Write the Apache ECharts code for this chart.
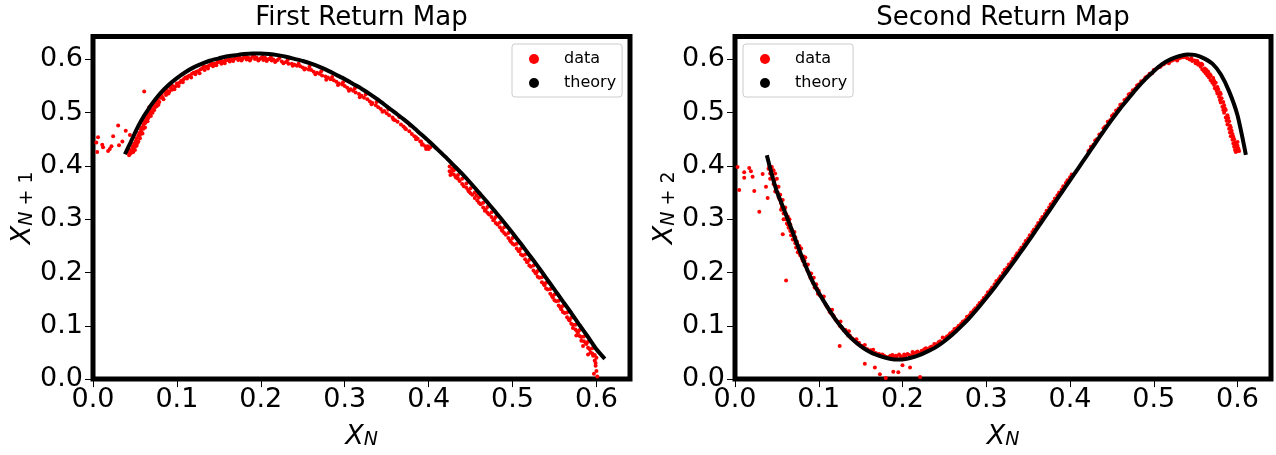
<!DOCTYPE html>
<html><head><meta charset="utf-8">
<script src="https://cdn.jsdelivr.net/npm/echarts@6/dist/echarts.min.js"></script>
<style>html,body{margin:0;padding:0;background:#fff}#c{width:1276px;height:455px}</style>
</head><body><div id="c"></div>
<script>
const xTicks = [0, 0.1, 0.2, 0.3, 0.4, 0.5, 0.6];
const yTicks = [0, 0.1, 0.2, 0.3, 0.4, 0.5, 0.6];
const titles = ['First Return Map', 'Second Return Map'];
const seriesNames = ['data', 'theory'];

const firstTheory = [[0.038,0.422],[0.045,0.445],[0.05,0.462],[0.055,0.478],[0.06,0.492],[0.065,0.504],[0.07,0.516],[0.08,0.536],[0.09,0.552],[0.1,0.565],[0.11,0.576],[0.12,0.585],[0.13,0.592],[0.14,0.598],[0.15,0.602],[0.16,0.606],[0.17,0.608],[0.18,0.610],[0.19,0.611],[0.2,0.611],[0.21,0.610],[0.22,0.608],[0.23,0.605],[0.24,0.601],[0.25,0.597],[0.26,0.592],[0.27,0.586],[0.28,0.579],[0.29,0.571],[0.3,0.563],[0.31,0.554],[0.32,0.545],[0.33,0.535],[0.34,0.524],[0.35,0.512],[0.36,0.500],[0.37,0.488],[0.38,0.475],[0.39,0.461],[0.4,0.447],[0.41,0.432],[0.42,0.417],[0.43,0.401],[0.44,0.385],[0.45,0.368],[0.46,0.350],[0.47,0.332],[0.48,0.313],[0.49,0.294],[0.5,0.274],[0.51,0.254],[0.52,0.233],[0.53,0.212],[0.54,0.190],[0.55,0.168],[0.56,0.146],[0.57,0.124],[0.58,0.101],[0.59,0.079],[0.6,0.056],[0.61,0.038]];

const firstData = [[0.004,0.444],[0.006,0.454],[0.005,0.426],[0.011,0.440],[0.012,0.435],[0.018,0.428],[0.020,0.432],[0.022,0.437],[0.024,0.456],[0.030,0.476],[0.031,0.439],[0.035,0.446],[0.039,0.466],[0.044,0.458],[0.061,0.540],
[0.042,0.425],[0.044,0.431],[0.046,0.428],[0.047,0.437],[0.048,0.432],[0.049,0.442],[0.050,0.436],[0.051,0.447],[0.052,0.452],[0.053,0.443],[0.054,0.457],[0.055,0.462],[0.056,0.452],[0.057,0.468],[0.058,0.472],[0.059,0.461],[0.060,0.478],[0.061,0.483],[0.062,0.472],[0.063,0.489],[0.064,0.493],[0.065,0.484],[0.066,0.498],[0.067,0.510],[0.068,0.502],[0.069,0.494],[0.070,0.507],[0.072,0.513],[0.073,0.505],[0.075,0.518],[0.077,0.523],[0.078,0.515],[0.080,0.528],[0.082,0.533],[0.084,0.525],[0.086,0.538],[0.088,0.542],[0.090,0.536],[0.092,0.547],[0.095,0.550],[0.097,0.544],[0.100,0.555],
[0.043,0.420],[0.045,0.424],[0.048,0.426],[0.050,0.430],[0.052,0.438],[0.054,0.446],[0.056,0.458],[0.058,0.463],[0.060,0.470],[0.062,0.480],[0.064,0.486],[0.066,0.490],[0.068,0.496],[0.071,0.500],[0.074,0.510],[0.076,0.512],[0.079,0.520],[0.083,0.528],[0.087,0.533],[0.091,0.540],[0.094,0.543],[0.098,0.549],
[0.103,0.556],[0.105,0.560],[0.108,0.563],[0.110,0.566],[0.112,0.564],[0.115,0.570],[0.118,0.573],[0.120,0.575],[0.122,0.572],[0.125,0.578],[0.128,0.581],[0.130,0.583],[0.133,0.580],[0.135,0.586],[0.138,0.588],[0.140,0.590],[0.143,0.587],[0.145,0.592],[0.148,0.594],[0.150,0.595],[0.153,0.592],[0.155,0.596],[0.158,0.598],[0.160,0.599],[0.163,0.596],[0.165,0.600],[0.168,0.601],[0.170,0.602],[0.173,0.599],[0.175,0.603],[0.178,0.601],[0.180,0.604],[0.183,0.600],[0.185,0.603],[0.188,0.601],[0.190,0.605],[0.193,0.601],[0.195,0.603],[0.198,0.600],[0.200,0.602],[0.203,0.599],[0.205,0.603],[0.208,0.600],[0.210,0.601],[0.213,0.598],[0.215,0.600],[0.218,0.597],[0.220,0.599],[0.225,0.596],[0.230,0.595],[0.233,0.592],[0.237,0.592],[0.240,0.590],[0.243,0.588],[0.247,0.587],[0.250,0.585],[0.253,0.583],[0.257,0.581],[0.260,0.580],[0.263,0.577],[0.267,0.575],[0.270,0.573],[0.273,0.570],[0.277,0.568],[0.280,0.566],[0.283,0.563],[0.287,0.561],[0.290,0.558],[0.293,0.555],[0.297,0.553],[0.300,0.550],[0.303,0.547],[0.307,0.544],[0.310,0.541],[0.313,0.538],[0.317,0.535],[0.320,0.532],[0.323,0.528],[0.327,0.525],[0.330,0.521],[0.333,0.518],[0.337,0.514],[0.340,0.510],[0.343,0.507],[0.347,0.503],[0.350,0.499],[0.353,0.495],[0.357,0.491],[0.360,0.486],[0.363,0.483],[0.367,0.478],[0.370,0.474],[0.373,0.469],[0.377,0.465],[0.380,0.460],[0.383,0.456],[0.387,0.451],[0.390,0.446],[0.393,0.441],[0.396,0.437],[0.398,0.434],[0.400,0.432],[0.385,0.450],[0.392,0.440],[0.397,0.432],[0.402,0.435],
[0.102,0.550],[0.107,0.557],[0.113,0.568],[0.117,0.566],[0.123,0.577],[0.127,0.574],[0.132,0.586],[0.137,0.583],[0.142,0.592],[0.147,0.589],[0.152,0.598],[0.157,0.593],[0.162,0.601],[0.167,0.597],[0.172,0.604],[0.177,0.598],[0.182,0.606],[0.187,0.598],[0.192,0.606],[0.197,0.598],[0.202,0.605],[0.207,0.597],[0.212,0.604],[0.217,0.595],[0.222,0.602],[0.227,0.593],[0.232,0.599],[0.238,0.588],[0.245,0.592],[0.252,0.581],[0.258,0.586],[0.265,0.572],[0.272,0.578],[0.278,0.562],[0.285,0.567],[0.292,0.552],[0.298,0.557],[0.305,0.541],[0.312,0.546],[0.318,0.529],[0.325,0.534],[0.332,0.516],[0.338,0.520],[0.345,0.502],[0.352,0.506],[0.358,0.487],[0.365,0.492],[0.372,0.471],[0.378,0.476],[0.385,0.454],[0.391,0.446],[0.399,0.437],
[0.425,0.399],[0.425,0.390],[0.426,0.383],[0.430,0.392],[0.430,0.384],[0.435,0.383],[0.435,0.376],[0.440,0.376],[0.440,0.366],[0.445,0.367],[0.445,0.359],[0.450,0.358],[0.450,0.349],[0.455,0.350],[0.455,0.340],[0.460,0.341],[0.460,0.331],[0.465,0.331],[0.465,0.322],[0.470,0.323],[0.470,0.312],[0.475,0.313],[0.475,0.304],[0.480,0.304],[0.480,0.293],[0.485,0.294],[0.485,0.285],[0.490,0.285],[0.490,0.274],[0.495,0.274],[0.495,0.265],[0.500,0.265],[0.500,0.254],[0.505,0.254],[0.505,0.245],[0.510,0.245],[0.510,0.234],[0.515,0.234],[0.515,0.225],[0.520,0.224],[0.520,0.213],[0.525,0.213],[0.525,0.204],[0.530,0.203],[0.530,0.192],[0.535,0.191],[0.535,0.182],[0.540,0.181],[0.540,0.170],[0.545,0.169],[0.545,0.160],[0.550,0.159],[0.550,0.148],[0.555,0.147],[0.555,0.138],[0.560,0.137],[0.560,0.126],[0.565,0.125],[0.565,0.116],[0.570,0.115],[0.570,0.104],[0.575,0.102],[0.575,0.093],[0.580,0.092],[0.580,0.081],[0.585,0.080],[0.585,0.071],[0.590,0.070],[0.590,0.059],[0.595,0.058],[0.595,0.048],[0.598,0.045],[0.598,0.035],[0.599,0.025],[0.600,0.040],[0.600,0.015],[0.601,0.005],[0.597,0.010],[0.576,0.082],[0.584,0.062],[0.590,0.046],[0.428,0.395],[0.432,0.380],[0.447,0.355],[0.457,0.345],[0.468,0.318],[0.478,0.300],[0.488,0.278],[0.498,0.258],[0.508,0.240],[0.518,0.220],[0.528,0.198],[0.538,0.176],[0.548,0.153],[0.558,0.131],[0.568,0.110],[0.578,0.087],[0.588,0.066],
[0.427,0.388],[0.433,0.378],[0.437,0.372],[0.442,0.362],[0.448,0.352],[0.452,0.346],[0.458,0.335],[0.462,0.328],[0.467,0.316],[0.472,0.309],[0.477,0.298],[0.482,0.290],[0.487,0.280],[0.492,0.271],[0.497,0.260],[0.502,0.252],[0.507,0.241],[0.512,0.232],[0.517,0.220],[0.522,0.211],[0.527,0.200],[0.532,0.190],[0.537,0.179],[0.542,0.168],[0.547,0.156],[0.552,0.146],[0.557,0.135],[0.562,0.124],[0.567,0.112],[0.572,0.102],[0.577,0.090],[0.582,0.079],[0.587,0.068],[0.592,0.056],[0.596,0.044],[0.599,0.030],[0.572,0.096],[0.582,0.072],[0.593,0.050]];

const secondTheory = [[0.038,0.420],[0.045,0.378],[0.05,0.352],[0.055,0.332],[0.06,0.312],[0.065,0.292],[0.07,0.271],[0.075,0.250],[0.08,0.229],[0.085,0.210],[0.09,0.192],[0.095,0.176],[0.1,0.162],[0.11,0.136],[0.12,0.112],[0.13,0.092],[0.14,0.075],[0.15,0.062],[0.16,0.052],[0.17,0.045],[0.18,0.040],[0.19,0.037],[0.2,0.037],[0.21,0.040],[0.22,0.045],[0.23,0.052],[0.24,0.060],[0.25,0.071],[0.26,0.084],[0.27,0.099],[0.28,0.115],[0.29,0.133],[0.3,0.152],[0.31,0.172],[0.32,0.193],[0.33,0.214],[0.34,0.236],[0.35,0.258],[0.36,0.281],[0.37,0.304],[0.38,0.327],[0.39,0.350],[0.4,0.373],[0.41,0.396],[0.42,0.419],[0.43,0.442],[0.44,0.465],[0.45,0.487],[0.46,0.508],[0.47,0.527],[0.48,0.546],[0.49,0.563],[0.5,0.578],[0.51,0.591],[0.52,0.600],[0.53,0.606],[0.54,0.609],[0.55,0.608],[0.56,0.602],[0.57,0.592],[0.58,0.572],[0.59,0.540],[0.6,0.495],[0.61,0.421]];

const secondData = [[0.003,0.398],[0.011,0.388],[0.017,0.396],[0.019,0.390],[0.021,0.380],[0.011,0.378],[0.033,0.385],[0.037,0.361],[0.005,0.355],[0.023,0.353],[0.029,0.314],[0.039,0.340],[0.057,0.272],[0.061,0.185],
[0.040,0.395],[0.041,0.400],[0.042,0.386],[0.043,0.391],[0.044,0.398],[0.045,0.380],[0.046,0.392],[0.047,0.372],[0.048,0.386],[0.049,0.362],[0.050,0.376],[0.051,0.350],[0.052,0.361],[0.053,0.338],[0.054,0.346],[0.055,0.330],[0.056,0.322],[0.057,0.336],[0.058,0.311],[0.059,0.318],[0.060,0.300],[0.061,0.310],[0.062,0.292],[0.063,0.305],[0.064,0.284],[0.066,0.290],[0.067,0.270],[0.068,0.280],[0.070,0.262],[0.071,0.276],[0.073,0.247],[0.074,0.258],[0.076,0.240],[0.078,0.232],[0.079,0.245],[0.081,0.222],[0.083,0.214],[0.084,0.228],[0.086,0.205],[0.088,0.200],[0.090,0.190],[0.091,0.198],[0.093,0.181],[0.095,0.172],[0.097,0.178],[0.099,0.160],[0.100,0.166],[0.103,0.155],[0.105,0.149],[0.108,0.141],[0.110,0.136],[0.112,0.131],[0.115,0.123],[0.118,0.118],[0.120,0.112],[0.123,0.106],[0.125,0.100],[0.128,0.096],[0.130,0.091],[0.133,0.087],[0.135,0.082],[0.138,0.078],[0.140,0.076],[0.143,0.071],[0.146,0.067],[0.150,0.063],[0.153,0.059],[0.156,0.056],[0.160,0.053],[0.163,0.050],[0.166,0.048],[0.170,0.046],[0.173,0.044],[0.176,0.046],[0.180,0.042],[0.183,0.041],[0.186,0.044],[0.190,0.040],[0.193,0.042],[0.196,0.046],[0.200,0.041],[0.203,0.043],[0.206,0.047],[0.210,0.044],[0.213,0.048],[0.216,0.050],[0.220,0.049],[0.223,0.053],[0.226,0.056],[0.230,0.056],[0.235,0.061],[0.240,0.065],[0.245,0.071],[0.250,0.076],[0.255,0.082],
[0.065,0.300],[0.072,0.255],[0.077,0.250],[0.082,0.230],[0.087,0.215],[0.094,0.190],[0.098,0.170],[0.106,0.155],[0.116,0.130],[0.126,0.108],[0.136,0.090],[0.145,0.075],[0.155,0.064],[0.165,0.055],
[0.042,0.376],[0.046,0.366],[0.048,0.352],[0.052,0.342],[0.055,0.318],[0.058,0.300],[0.060,0.322],[0.063,0.290],[0.066,0.278],[0.069,0.262],[0.072,0.266],[0.075,0.238],[0.077,0.236],[0.080,0.226],[0.083,0.222],[0.085,0.212],[0.089,0.196],[0.092,0.186],[0.096,0.176],[0.101,0.158],[0.104,0.152],[0.109,0.138],[0.113,0.126],[0.117,0.120],[0.121,0.110],[0.127,0.098],[0.132,0.092],[0.137,0.082],[0.142,0.074],[0.148,0.068],[0.152,0.062],[0.158,0.056],[0.162,0.054],[0.168,0.049],[0.172,0.047],[0.178,0.044],[0.185,0.043],[0.188,0.045],[0.192,0.044],[0.198,0.043],[0.202,0.046],[0.208,0.045],[0.212,0.051],[0.218,0.052],[0.228,0.058],[0.233,0.060],[0.238,0.066],[0.243,0.069],[0.248,0.078],[0.253,0.080],
[0.125,0.062],[0.155,0.029],[0.167,0.022],[0.173,0.009],[0.189,0.014],[0.195,0.013],[0.209,0.022],[0.221,0.004],[0.180,0.002],[0.200,0.026],
[0.260,0.089],[0.265,0.096],[0.270,0.104],[0.275,0.111],[0.280,0.120],[0.285,0.129],[0.290,0.138],[0.295,0.147],[0.300,0.157],[0.305,0.167],[0.310,0.178],[0.315,0.188],[0.320,0.199],[0.325,0.209],[0.330,0.220],[0.335,0.231],[0.340,0.242],[0.345,0.253],[0.350,0.264],[0.355,0.276],[0.360,0.287],[0.365,0.299],[0.370,0.310],[0.375,0.322],[0.380,0.333],[0.385,0.345],[0.390,0.356],[0.395,0.368],[0.400,0.379],[0.402,0.384],
[0.262,0.094],[0.272,0.108],[0.282,0.125],[0.292,0.143],[0.302,0.163],[0.312,0.184],[0.322,0.205],[0.332,0.226],[0.342,0.247],[0.352,0.270],[0.362,0.293],[0.372,0.316],[0.382,0.339],[0.392,0.362],
[0.257,0.086],[0.267,0.100],[0.277,0.117],[0.287,0.133],[0.297,0.152],[0.307,0.172],[0.317,0.193],[0.327,0.215],[0.337,0.236],[0.347,0.259],[0.357,0.281],[0.367,0.304],[0.377,0.328],[0.387,0.350],[0.397,0.373],
[0.422,0.428],[0.425,0.436],[0.430,0.448],[0.435,0.459],[0.440,0.471],[0.445,0.483],[0.450,0.494],[0.455,0.504],[0.460,0.515],[0.465,0.524],[0.470,0.534],[0.475,0.542],[0.480,0.551],[0.485,0.559],[0.490,0.566],[0.495,0.573],[0.500,0.580],[0.505,0.585],[0.510,0.590],[0.515,0.594],[0.520,0.597],[0.525,0.600],[0.530,0.602],[0.535,0.604],[0.540,0.602],
[0.428,0.440],[0.438,0.462],[0.448,0.486],[0.458,0.508],[0.468,0.527],[0.478,0.545],[0.488,0.561],[0.498,0.574],[0.508,0.586],[0.518,0.593],[0.528,0.598],
[0.424,0.430],[0.432,0.450],[0.442,0.474],[0.452,0.497],[0.462,0.516],[0.472,0.536],[0.482,0.553],[0.492,0.568],[0.502,0.581],[0.512,0.591],[0.522,0.598],[0.532,0.603],[0.538,0.604],
[0.543,0.600],[0.546,0.597],[0.550,0.593],[0.553,0.590],[0.556,0.586],[0.558,0.581],[0.560,0.578],[0.562,0.574],[0.564,0.570],[0.566,0.566],[0.568,0.561],[0.570,0.556],[0.572,0.552],[0.573,0.546],[0.575,0.541],[0.576,0.536],[0.578,0.530],[0.579,0.524],[0.580,0.519],[0.582,0.511],[0.583,0.505],[0.584,0.500],[0.586,0.491],[0.587,0.485],[0.588,0.478],[0.590,0.470],[0.591,0.463],[0.592,0.456],[0.594,0.449],[0.595,0.442],[0.596,0.436],[0.597,0.430],[0.598,0.426],[0.600,0.428],[0.601,0.433],
[0.552,0.597],[0.558,0.590],[0.563,0.580],[0.568,0.570],[0.572,0.560],[0.576,0.548],[0.580,0.535],[0.583,0.520],[0.586,0.505],[0.589,0.490],[0.592,0.472],[0.595,0.455],[0.598,0.440],[0.600,0.445],
[0.545,0.602],[0.549,0.598],[0.554,0.593],[0.557,0.592],[0.561,0.583],[0.565,0.577],[0.567,0.572],[0.571,0.565],[0.574,0.556],[0.577,0.544],[0.579,0.538],[0.581,0.527],[0.584,0.514],[0.585,0.508],[0.588,0.495],[0.590,0.484],[0.591,0.476],[0.593,0.466],[0.594,0.460],[0.596,0.450],[0.597,0.444],[0.599,0.436],[0.600,0.438],[0.602,0.428],[0.599,0.430]];

const F = 'DejaVu Sans';
const grids = [
  {left: 93, right: 646, top: 36.5, bottom: 70},
  {left: 735, right: 5, top: 36.5, bottom: 70}
];
const isTick = (arr, v) => arr.some(t => Math.abs(t - v) < 1e-9);
const nameRich = {
  x: {fontFamily: F, fontSize: 27, fontStyle: 'italic', color: '#000', lineHeight: 27, verticalAlign: 'top'},
  n: {fontFamily: F, fontSize: 19, fontStyle: 'italic', color: '#000', lineHeight: 19, verticalAlign: 'bottom', padding: [13, 0, 0, 0]},
  s: {fontFamily: F, fontSize: 19, color: '#000', lineHeight: 19, verticalAlign: 'bottom', padding: [13, 0, 0, 0]}
};

function xAxis(gi) {
  return {
    gridIndex: gi, type: 'value', min: 0, max: 0.64, interval: 0.1,
    name: '{x|X}{n|N}', nameLocation: 'middle', nameGap: 33,
    nameTextStyle: {rich: nameRich},
    axisLine: {show: false}, splitLine: {show: false},
    axisTick: {show: true, length: 8, customValues: xTicks, lineStyle: {color: '#000', width: 1}},
    axisLabel: {customValues: xTicks, margin: 7, fontFamily: F, fontSize: 27, color: '#000',
      formatter: v => isTick(xTicks, v) ? v.toFixed(1) : ''}
  };
}
function yAxis(gi, sub) {
  return {
    gridIndex: gi, type: 'value', min: 0, max: 0.643, interval: 0.1,
    name: '{x|X}{n|N}{s| + ' + sub + '}', nameLocation: 'middle', nameGap: 53,
    nameTextStyle: {rich: nameRich},
    axisLine: {show: false}, splitLine: {show: false},
    axisTick: {show: true, length: 8, customValues: yTicks, lineStyle: {color: '#000', width: 1}},
    axisLabel: {customValues: yTicks, margin: 10, fontFamily: F, fontSize: 27, color: '#000',
      formatter: v => isTick(yTicks, v) ? v.toFixed(1) : ''}
  };
}
function legend(left) {
  return {
    left: left, top: 44, orient: 'vertical', selectedMode: false,
    data: [{name: seriesNames[0], icon: 'circle'}, {name: seriesNames[1], icon: 'circle'}],
    itemWidth: 10, itemHeight: 10, itemGap: 8, padding: [7, 6, 6, 17],
    backgroundColor: 'rgba(255,255,255,0.8)', borderColor: '#cccccc', borderWidth: 1, borderRadius: 3,
    textStyle: {fontFamily: F, fontSize: 16, color: '#000', lineHeight: 16, padding: [0, 0, 0, 20]}
  };
}
function scatter(gi, data) {
  return {type: 'scatter', name: seriesNames[0], xAxisIndex: gi, yAxisIndex: gi, data: data,
    symbol: 'circle', symbolSize: 4, itemStyle: {color: '#ff0000', opacity: 1}, silent: true};
}
function theory(gi, data) {
  return {type: 'line', name: seriesNames[1], xAxisIndex: gi, yAxisIndex: gi, data: data,
    showSymbol: false, smooth: 0.2, lineStyle: {color: '#000', width: 4}, itemStyle: {color: '#000'}, silent: true};
}

const chart = echarts.init(document.getElementById('c'));
chart.setOption({
  animation: false,
  backgroundColor: '#fff',
  grid: grids.map(g => Object.assign({show: true, borderColor: '#000', borderWidth: 5, backgroundColor: '#fff'}, g)),
  xAxis: [xAxis(0), xAxis(1)],
  yAxis: [yAxis(0, '1'), yAxis(1, '2')],
  legend: [legend(512), legend(743)],
  graphic: titles.map((t, i) => ({
    type: 'text', x: i === 0 ? 361.5 : 1003, y: 5,
    style: {text: t, fontFamily: F, fontSize: 26, fill: '#000', align: 'center', verticalAlign: 'top'}
  })),
  series: [scatter(0, firstData), theory(0, firstTheory), scatter(1, secondData), theory(1, secondTheory)]
});
</script></body></html>
